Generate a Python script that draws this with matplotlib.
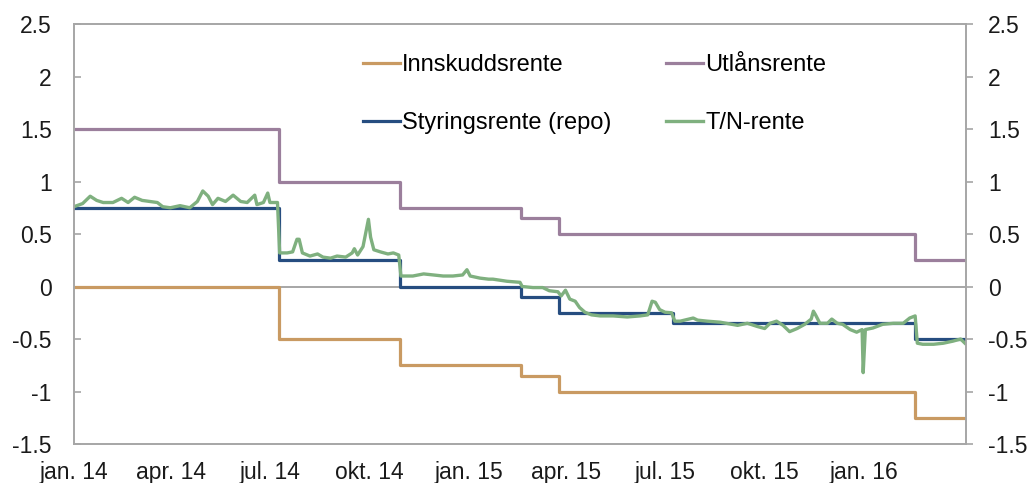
import matplotlib.pyplot as plt
import pandas as pd

plt.rcParams['font.family'] = ['Liberation Sans', 'DejaVu Sans']

# policy rate changes (effective dates), last entry = end of chart
change_dates = ['2014-01-01', '2014-07-09', '2014-10-29', '2015-02-18',
                '2015-03-25', '2015-07-08', '2016-02-17', '2016-04-04']
repo = [0.75, 0.25, 0.0, -0.10, -0.25, -0.35, -0.50, -0.50]
innskudd = [0.0, -0.50, -0.75, -0.85, -1.00, -1.00, -1.25, -1.25]
utlaan = [1.50, 1.00, 0.75, 0.65, 0.50, 0.50, 0.25, 0.25]

# T/N rate
tn_dates = [
    '2014-01-01', '2014-01-09', '2014-01-16', '2014-01-22', '2014-01-28',
    '2014-02-06', '2014-02-14', '2014-02-20', '2014-02-26', '2014-03-05',
    '2014-03-12', '2014-03-19', '2014-03-24', '2014-03-31', '2014-04-09',
    '2014-04-18', '2014-04-25', '2014-04-30', '2014-05-05', '2014-05-09',
    '2014-05-14', '2014-05-21', '2014-05-28', '2014-06-04', '2014-06-10',
    '2014-06-17', '2014-06-19', '2014-06-25', '2014-06-29', '2014-07-01',
    '2014-07-08',
    '2014-07-10', '2014-07-17', '2014-07-22', '2014-07-26', '2014-07-28',
    '2014-07-31', '2014-08-07', '2014-08-14', '2014-08-19', '2014-08-26',
    '2014-09-01', '2014-09-09', '2014-09-15', '2014-09-17', '2014-09-20',
    '2014-09-25', '2014-09-30', '2014-10-02', '2014-10-05', '2014-10-11',
    '2014-10-18', '2014-10-23', '2014-10-28',
    '2014-10-30', '2014-11-10', '2014-11-20', '2014-11-29', '2014-12-08',
    '2014-12-17', '2014-12-26', '2014-12-30', '2015-01-02', '2015-01-11',
    '2015-01-19', '2015-01-23', '2015-02-05', '2015-02-17',
    '2015-02-19', '2015-03-01', '2015-03-10', '2015-03-16', '2015-03-24',
    '2015-03-27', '2015-03-31', '2015-04-04', '2015-04-09', '2015-04-13',
    '2015-04-18', '2015-04-24', '2015-05-02', '2015-05-14', '2015-05-27',
    '2015-06-08', '2015-06-15', '2015-06-19', '2015-06-22', '2015-06-26',
    '2015-07-01', '2015-07-07',
    '2015-07-10', '2015-07-15', '2015-07-27', '2015-07-31', '2015-08-09',
    '2015-08-21', '2015-09-06', '2015-09-15', '2015-09-24', '2015-10-01',
    '2015-10-06', '2015-10-12', '2015-10-18', '2015-10-24', '2015-10-31',
    '2015-11-07', '2015-11-13', '2015-11-15', '2015-11-17', '2015-11-21',
    '2015-11-28', '2015-12-02', '2015-12-07', '2015-12-12', '2015-12-19',
    '2015-12-25', '2015-12-30', '2015-12-31', '2016-01-02', '2016-01-09',
    '2016-01-18', '2016-01-28', '2016-02-06', '2016-02-12', '2016-02-17',
    '2016-02-19', '2016-02-24', '2016-03-05', '2016-03-14', '2016-03-23',
    '2016-03-30', '2016-04-03',
]
tn_values = [
    0.76, 0.79, 0.86, 0.82, 0.80,
    0.80, 0.84, 0.80, 0.85, 0.82,
    0.81, 0.80, 0.76, 0.75, 0.77,
    0.75, 0.81, 0.91, 0.86, 0.78,
    0.84, 0.81, 0.87, 0.81, 0.80,
    0.87, 0.78, 0.80, 0.89, 0.80,
    0.80,
    0.32, 0.32, 0.33, 0.45, 0.45,
    0.32, 0.29, 0.31, 0.28, 0.27,
    0.29, 0.28, 0.32, 0.36, 0.30,
    0.38, 0.64, 0.47, 0.35, 0.33,
    0.31, 0.32, 0.30,
    0.10, 0.10, 0.12, 0.11, 0.10,
    0.10, 0.11, 0.16, 0.10, 0.08,
    0.07, 0.07, 0.05, 0.04,
    0.00, -0.01, -0.01, -0.04, -0.05,
    -0.09, -0.035, -0.12, -0.14, -0.20,
    -0.245, -0.27, -0.28, -0.28, -0.29,
    -0.28, -0.27, -0.14, -0.15, -0.22,
    -0.245, -0.25,
    -0.33, -0.33, -0.30, -0.32, -0.33,
    -0.34, -0.37, -0.35, -0.38, -0.40,
    -0.35, -0.33, -0.37, -0.43, -0.40,
    -0.36, -0.31, -0.235, -0.27, -0.35,
    -0.35, -0.31, -0.35, -0.36, -0.41,
    -0.435, -0.41, -0.82, -0.41, -0.395,
    -0.36, -0.35, -0.35, -0.30, -0.28,
    -0.54, -0.55, -0.55, -0.54, -0.52,
    -0.50, -0.54,
]

tick_dates = ['2014-01-01', '2014-04-01', '2014-07-01', '2014-10-01', '2015-01-01',
              '2015-04-01', '2015-07-01', '2015-10-01', '2016-01-01']
tick_labels = ['jan. 14', 'apr. 14', 'jul. 14', 'okt. 14', 'jan. 15',
               'apr. 15', 'jul. 15', 'okt. 15', 'jan. 16']
y_ticks = [-1.5, -1, -0.5, 0, 0.5, 1, 1.5, 2, 2.5]
y_labels = ['-1.5', '-1', '-0.5', '0', '0.5', '1', '1.5', '2', '2.5']

steps = pd.to_datetime(change_dates)
tn_x = pd.to_datetime(tn_dates)

fig = plt.figure(figsize=(10.30, 4.83), dpi=100)
ax = fig.add_axes([0.0718, 0.0807, 0.8661, 0.8696])

ax.axhline(0, color='#a6a6a6', linewidth=1.4, zorder=1)
l_inn, = ax.plot(steps, innskudd, drawstyle='steps-post', color='#c99a62',
                 linewidth=2.3, label='Innskuddsrente', zorder=2)
l_utl, = ax.plot(steps, utlaan, drawstyle='steps-post', color='#9b7f9c',
                 linewidth=2.3, label='Utlånsrente', zorder=2)
l_repo, = ax.plot(steps, repo, drawstyle='steps-post', color='#264d80',
                  linewidth=2.3, label='Styringsrente (repo)', zorder=3)
l_tn, = ax.plot(tn_x, tn_values, color='#7fb07f', linewidth=2.4,
                label='T/N-rente', zorder=4)

ax.set_xlim(pd.Timestamp('2014-01-01'), pd.Timestamp('2016-04-04'))
ax.set_ylim(-1.5, 2.5)
ax.set_yticks(y_ticks)
ax.set_yticklabels(y_labels)
ax.set_xticks(pd.to_datetime(tick_dates))
ax.set_xticklabels(tick_labels)

for s in ax.spines.values():
    s.set_color('#a6a6a6')
    s.set_linewidth(1.2)
ax.tick_params(axis='x', length=0, pad=12, labelsize=16.5, colors='#1a1a1a')
ax.tick_params(axis='y', direction='in', length=5, width=1.2, color='#a6a6a6',
               pad=16, labelsize=16.5, labelcolor='#1a1a1a')

ax2 = ax.twinx()
ax2.set_ylim(-1.5, 2.5)
ax2.set_yticks(y_ticks)
ax2.set_yticklabels(y_labels)
for s in ax2.spines.values():
    s.set_color('#a6a6a6')
    s.set_linewidth(1.2)
ax2.tick_params(axis='y', direction='out', length=5, width=1.2, color='#a6a6a6',
                pad=11, labelsize=16.5, labelcolor='#1a1a1a')

fig.legend([l_inn, l_repo, l_utl, l_tn],
           ['Innskuddsrente', 'Styringsrente (repo)', 'Utlånsrente', 'T/N-rente'],
           ncol=2, loc='upper left', bbox_to_anchor=(0.352, 0.888),
           frameon=False, fontsize=17, handlelength=1.57, handletextpad=0.1,
           labelspacing=1.54, columnspacing=2.3, borderpad=0, borderaxespad=0)

fig.savefig('out.png', dpi=100)
